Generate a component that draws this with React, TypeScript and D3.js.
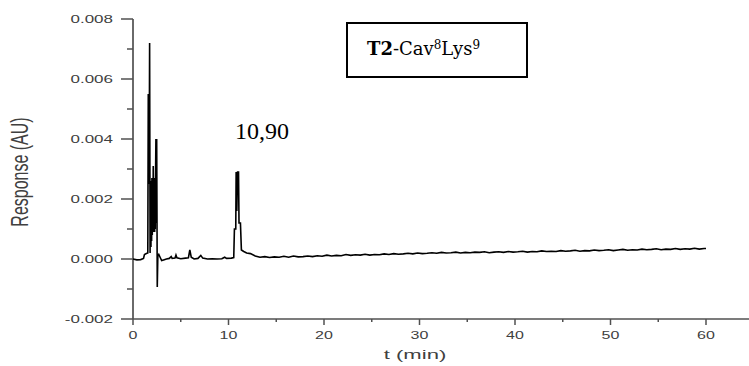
import React from "react";
import * as d3 from "d3";

const timeMin: number[] = [
  0, 0.4, 0.8, 1.1, 1.2, 1.4, 1.55, 1.6, 1.63, 1.66, 1.69, 1.74, 1.79, 1.84, 1.88, 1.91, 1.95, 1.98,
  2.02, 2.05, 2.09, 2.12, 2.15, 2.18, 2.21, 2.24, 2.27, 2.3, 2.33, 2.36, 2.4, 2.44, 2.48, 2.54, 2.6,
  2.7, 2.85, 3.0, 3.2, 3.5,
  3.8, 4.0, 4.1, 4.4, 4.5, 4.6, 5.0, 5.5, 5.8, 5.95, 6.1, 6.4, 6.8, 7.1, 7.3, 7.8, 8.3, 8.8, 9.3,
  9.6, 9.8, 10.3, 10.55, 10.62, 10.76, 10.8, 10.87, 10.95, 11.05, 11.1, 11.25, 11.35, 11.6, 11.9,
  12.3, 12.8, 13.3, 13.8, 14.3, 14.8, 15.3, 15.8, 16.3, 16.8, 17.3, 17.8, 18.3, 18.8, 19.3, 19.8,
  20.3, 20.8, 21.3, 21.8, 22.3, 22.8, 23.3, 23.8, 24.3, 24.8, 25.3, 25.8, 26.3, 26.8, 27.3, 27.8,
  28.3, 28.8, 29.3, 29.8, 30.3, 30.8, 31.3, 31.8, 32.3, 32.8, 33.3, 33.8, 34.3, 34.8, 35.3, 35.8,
  36.3, 36.8, 37.3, 37.8, 38.3, 38.8, 39.3, 39.8, 40.3, 40.8, 41.3, 41.8, 42.3, 42.8, 43.3, 43.8,
  44.3, 44.8, 45.3, 45.8, 46.3, 46.8, 47.3, 47.8, 48.3, 48.8, 49.3, 49.8, 50.3, 50.8, 51.3, 51.8,
  52.3, 52.8, 53.3, 53.8, 54.3, 54.8, 55.3, 55.8, 56.3, 56.8, 57.3, 57.8, 58.3, 58.8, 59.3, 59.8, 60,
];

const responseAU: number[] = [
  0, -0.00003, -0.00002, 0.00002, 0.00015, 0.00018, 0.0002, 0.0055, 0.0025, 0.0054, 0.0025, 0.0072,
  0.0002, 0.0024, 0.0004, 0.0026, 0.0006, 0.0027, 0.0008, 0.0027, 0.0009, 0.0031, 0.0009, 0.0027,
  0.0009, 0.0027, 0.0009, 0.0027, 0.001, 0.0027, 0.004, 0.0012, 0.004, -0.00093, 0.0001,
  0.00015, 0.00005, -0.00005, -0.00003, 0.0,
  0.00002, 0.00008, 0.00002, 0.00003, 0.00013, 0.00004, 0.00001, 0.00003, 0.00004, 0.0003, 0.00006,
  0.0, 0.00002, 0.00012, 0.00003, 0.0, 0.00001, 0.0, 0.00001, 0.00006, 0.00002, 0.00003, 0.00005,
  0.001, 0.001, 0.0029, 0.0016, 0.0029, 0.0029, 0.0012, 0.0012, 0.0003, 0.00025, 0.0002, 0.00018,
  0.0001, 0.00006, 0.00008, 0.00005, 0.00007, 0.00006, 0.00009, 0.00006, 0.0001, 0.00007, 0.00008,
  0.0001, 0.00008, 0.00011, 0.00009, 0.00013, 0.0001, 0.00012, 0.00011, 0.00015, 0.00012, 0.00014,
  0.00013, 0.00016, 0.00013, 0.00015, 0.00014, 0.00017, 0.00015, 0.00018, 0.00016, 0.00017, 0.00019,
  0.00017, 0.0002, 0.00018, 0.00019, 0.00021, 0.00019, 0.00022, 0.0002, 0.00021, 0.00023, 0.0002,
  0.00022, 0.00021, 0.00023, 0.00022, 0.00024, 0.00021, 0.00023, 0.00024, 0.00022, 0.00025, 0.00023,
  0.00024, 0.00026, 0.00023, 0.00025, 0.00024, 0.00027, 0.00025, 0.00026, 0.00025, 0.00028, 0.00026,
  0.00027, 0.00029, 0.00026, 0.00028, 0.00027, 0.0003, 0.00028, 0.00029, 0.00031, 0.00028, 0.0003,
  0.00032, 0.00029, 0.00031, 0.0003, 0.00033, 0.00031, 0.00032, 0.00034, 0.00031, 0.00033, 0.00032,
  0.00035, 0.00032, 0.00034, 0.00033, 0.00036, 0.00033, 0.00035, 0.00035,
];

const xMajorTicks: number[] = [0, 10, 20, 30, 40, 50, 60];
const xMinorTicks: number[] = [5, 15, 25, 35, 45, 55, 65];
const yMajorTicks: number[] = [-0.002, 0.0, 0.002, 0.004, 0.006, 0.008];
const yMinorTicks: number[] = [-0.001, 0.001, 0.003, 0.005, 0.007];
const yTickLabels: string[] = ["-0.002", "0.000", "0.002", "0.004", "0.006", "0.008"];
const xTickLabels: string[] = ["0", "10", "20", "30", "40", "50", "60"];

const peakLabel = "10,90";
const yAxisTitle = "Response (AU)";
const xAxisTitle = "t (min)";

export default function App() {
  const W = 749;
  const H = 366;
  const x = d3.scaleLinear().domain([0, 65]).range([133, 133 + 65 * 9.55]);
  const y = d3.scaleLinear().domain([-0.002, 0.008]).range([319, 19]);
  const pts: [number, number][] = timeMin.map((t, i) => [t, responseAU[i]]);
  const line = d3
    .line<[number, number]>()
    .x((d) => x(d[0]))
    .y((d) => y(d[1]));
  const axisColor = "#505050";
  const textColor = "#404040";
  const sans = "'Liberation Sans', Arial, sans-serif";
  return (
    <svg
      width={W}
      height={H}
      style={{ position: "absolute", left: 0, top: 0, background: "#fff" }}
    >
      <rect x={0} y={0} width={W} height={H} fill="#fff" />
      <line x1={x(0)} y1={y(0.008)} x2={x(0)} y2={y(-0.002)} stroke={axisColor} strokeWidth={1.7} />
      <line x1={x(0)} y1={y(-0.002)} x2={W} y2={y(-0.002)} stroke={axisColor} strokeWidth={1.7} />
      {yMajorTicks.map((v) => (
        <line key={"ym" + v} x1={x(0) - 12} x2={x(0)} y1={y(v)} y2={y(v)} stroke={axisColor} strokeWidth={1.5} />
      ))}
      {yMinorTicks.map((v) => (
        <line key={"yn" + v} x1={x(0) - 6} x2={x(0)} y1={y(v)} y2={y(v)} stroke={axisColor} strokeWidth={1.5} />
      ))}
      {xMajorTicks.map((v) => (
        <line key={"xm" + v} x1={x(v)} x2={x(v)} y1={y(-0.002)} y2={y(-0.002) + 6} stroke={axisColor} strokeWidth={1.5} />
      ))}
      {xMinorTicks.map((v) => (
        <line key={"xn" + v} x1={x(v)} x2={x(v)} y1={y(-0.002)} y2={y(-0.002) + 3} stroke={axisColor} strokeWidth={1.5} />
      ))}
      {yMajorTicks.map((v, i) => (
        <g key={"yl" + v} transform={`translate(113,${y(v) + 3.6}) scale(1.7,1)`}>
          <text textAnchor="end" fontFamily={sans} fontSize={10} fill={textColor}>
            {yTickLabels[i]}
          </text>
        </g>
      ))}
      {xMajorTicks.map((v, i) => (
        <g key={"xl" + v} transform={`translate(${x(v)},339) scale(1.6,1)`}>
          <text textAnchor="middle" fontFamily={sans} fontSize={10} fill={textColor}>
            {xTickLabels[i]}
          </text>
        </g>
      ))}
      <g transform="translate(415,359) scale(1.7,1)">
        <text textAnchor="middle" fontFamily={sans} fontSize={13} fill={textColor}>
          {xAxisTitle}
        </text>
      </g>
      <g transform="translate(28,172) scale(1.55,1) rotate(-90)">
        <text textAnchor="middle" fontFamily={sans} fontSize={16} fill={textColor}>
          {yAxisTitle}
        </text>
      </g>
      <path d={line(pts) || ""} fill="none" stroke="#000" strokeWidth={1.6} strokeLinejoin="miter" />
      <text x={235} y={139} fontFamily="'Liberation Serif', 'Times New Roman', serif" fontSize={24} fill="#000">
        {peakLabel}
      </text>
      <rect x={347} y={23} width={180} height={54} fill="#fff" stroke="#000" strokeWidth={2} />
      <text x={367} y={55} fontFamily="'DejaVu Serif', serif" fontSize={18} fill="#000">
        <tspan fontWeight="bold">T2</tspan>
        <tspan>-Cav</tspan>
        <tspan fontSize={12} dy={-6}>8</tspan>
        <tspan dy={6}>Lys</tspan>
        <tspan fontSize={12} dy={-6}>9</tspan>
      </text>
    </svg>
  );
}
